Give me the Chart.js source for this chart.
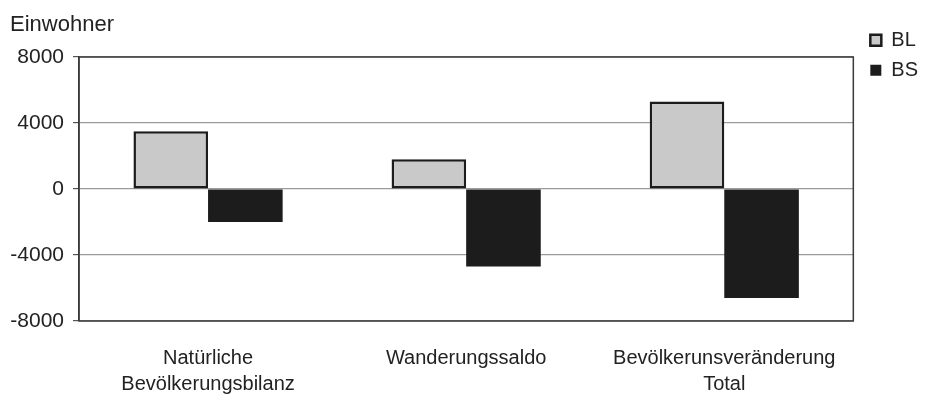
<!DOCTYPE html>
<html>
<head>
<meta charset="utf-8">
<script src="https://cdn.jsdelivr.net/npm/chart.js@4"></script>
<style>
  body { margin: 0; background: #fff; }
  #wrap { width: 928px; height: 394px; position: relative; }
</style>
</head>
<body>
<div id="wrap"><canvas id="myChart"></canvas></div>
<script>
// data
const categories = [["Natürliche", "Bevölkerungsbilanz"], "Wanderungssaldo", ["Bevölkerunsveränderung", "Total"]];
const bl_values = [3500, 1800, 5300];
const bs_values = [-2000, -4700, -6600];
const y_ticks = [-8000, -4000, 0, 4000, 8000];

const FONT = "'Liberation Sans', Arial, sans-serif";

// box round the plot area
const frame = {
    id: 'frame',
    afterDraw(chart) {
        const a = chart.chartArea;
        const ctx = chart.ctx;
        ctx.save();
        ctx.strokeStyle = '#3a3a3a';
        ctx.lineWidth = 1.5;
        ctx.strokeRect(a.left, a.top, a.right - a.left, a.bottom - a.top);
        ctx.restore();
    }
};

const ctx = document.getElementById('myChart').getContext('2d');
const myChart = new Chart(ctx, {
    type: 'bar',
    data: {
        labels: categories,
        datasets: [{
            label: 'BL',
            data: bl_values,
            backgroundColor: '#c9c9c9',
            borderColor: '#1c1c1c',
            borderWidth: 2.5,
            borderSkipped: false
        }, {
            label: 'BS',
            data: bs_values,
            backgroundColor: '#1c1c1c',
            borderColor: '#1c1c1c',
            borderWidth: 0
        }]
    },
    options: {
        responsive: true,
        maintainAspectRatio: false,
        animation: false,
        layout: { padding: { left: 10, right: 0, top: 0, bottom: 0 } },
        datasets: {
            bar: { barPercentage: 1, categoryPercentage: 0.578 }
        },
        plugins: {
            title: {
                display: true,
                text: 'Einwohner',
                align: 'start',
                color: '#222',
                font: { family: FONT, size: 22, weight: 'normal' },
                padding: { top: 12, bottom: 18.6 }
            },
            legend: {
                position: 'right',
                align: 'start',
                title: {
                    display: true,
                    text: ' ',
                    font: { size: 1 },
                    padding: { top: 19, bottom: 0 }
                },
                labels: {
                    color: '#222',
                    font: { family: FONT, size: 20 },
                    boxWidth: 11,
                    boxHeight: 11,
                    padding: 10
                }
            },
            tooltip: { enabled: false }
        },
        scales: {
            x: {
                grid: { display: false },
                border: { display: false },
                afterFit(scale) {
                    scale.height = 73;
                },
                ticks: {
                    color: '#222',
                    font: { family: FONT, size: 20, lineHeight: 1.3 },
                    padding: 16,
                    maxRotation: 0
                }
            },
            y: {
                min: -8000,
                max: 8000,
                afterBuildTicks(scale) {
                    scale.ticks = y_ticks.map(v => ({ value: v }));
                },
                afterFit(scale) {
                    scale.width = 69;
                },
                grid: {
                    color: '#9a9a9a',
                    lineWidth: 1.2,
                    tickLength: 6,
                    tickColor: '#555'
                },
                border: { color: '#3a3a3a', width: 1.5 },
                ticks: {
                    color: '#222',
                    font: { family: FONT, size: 21 },
                    padding: 9,
                    callback: (v) => String(v)
                }
            },
            // empty strip between plot and legend
            gap: {
                position: 'right',
                display: true,
                grid: { display: false },
                border: { display: false },
                ticks: { display: false },
                afterFit(scale) {
                    scale.width = 7;
                }
            }
        }
    },
    plugins: [frame]
});
</script>
</body>
</html>
